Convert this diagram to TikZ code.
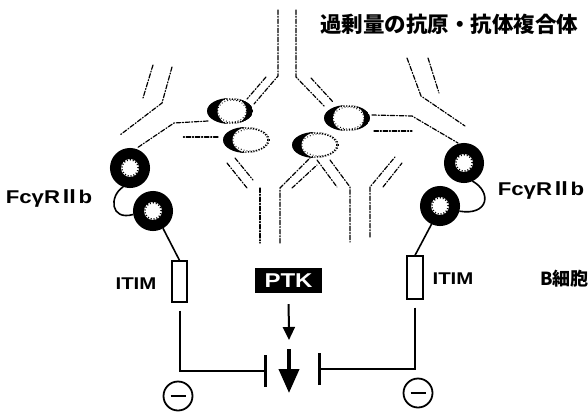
\documentclass[tikz,border=0pt]{standalone}
\usepackage{fontspec}
\usetikzlibrary{arrows.meta,shapes.geometric}
\newfontfamily\latsans{Liberation Sans}[FakeStretch=1.2]
\newfontfamily\cjk{Noto Sans CJK JP}

\tikzset{
  pics/antigen/.style 2 args={code={
    \begin{scope}
      \clip (0,0) ellipse (23pt and 13pt);
      \fill (0,0) ellipse (23pt and 13pt);
      \fill[white] (#1,0) ellipse (#2 and 13.5pt);
    \end{scope}
    \draw[line width=1.4pt, dash pattern=on 1.2pt off 1.5pt] (0,0) ellipse (22pt and 12pt);
    \draw[line width=1pt, dash pattern=on 0.8pt off 2.2pt] (#1,0) ellipse (#2 and 11pt);
  }}
}

\begin{document}
\begin{tikzpicture}[x=1pt,y=-1pt,
  ab/.style={line width=1.2pt, dash pattern=on 4.5pt off 1.8pt on 1pt off 1.8pt, line cap=round},
  wire/.style={line width=1.6pt},
  receptor/.style={circle, draw, line width=11pt, minimum size=29pt, inner sep=0pt},
  itim/.style={draw, line width=1.3pt, minimum width=15pt, minimum height=41pt, inner sep=0pt},
  lbl/.style={font=\latsans\bfseries\fontsize{17}{19}\selectfont, inner sep=0pt},
  jp/.style={font=\cjk\bfseries\fontsize{#1}{#1}\selectfont, inner sep=0pt},
  inhib/.style={line width=2pt, -{Bar[width=32pt,line width=2.6pt]}},
  minus/.style={circle, draw, line width=1.8pt, minimum size=29pt, inner sep=0pt},
]
\useasboundingbox (0,0) rectangle (588,412);

% antibody chains (dash-dot outlines)
% complex at the top
\draw[ab] (278,10) -- (278,76) -- (254,104);
\draw[ab] (296,10) -- (296,77) -- (325,107);
\draw[ab] (266,77) -- (247,99);
\draw[ab] (311,78) -- (333,102);
% antibody bound to the left receptor
\draw[ab] (208,121) -- (174,123) -- (137,148);
\draw[ab] (218,137) -- (183,137);
\draw[ab] (172,67) -- (162,103) -- (120,135);
\draw[ab] (153,65) -- (143,98);
% antibody bound to the right receptor
\draw[ab] (372,115) -- (412,116) -- (458,143);
\draw[ab] (374,131) -- (412,131);
\draw[ab] (407,58) -- (421,96) -- (465,126);
\draw[ab] (428,58) -- (439,93);
% B cell receptors below
\draw[ab] (227,163) -- (247,188);
\draw[ab] (235,158) -- (253,180);
\draw[ab] (260,188) -- (260,243);
\draw[ab] (280,243) -- (280,188) -- (310,158);
\draw[ab] (292,188) -- (317,165);
\draw[ab] (317,160) -- (337,187);
\draw[ab] (330,160) -- (350,187) -- (350,242);
\draw[ab] (370,237) -- (370,187) -- (395,157);
\draw[ab] (383,187) -- (402,163);

% antigens
\coordinate (ag1) at (230,111);
\coordinate (ag2) at (246,140);
\coordinate (ag3) at (347,118);
\coordinate (ag4) at (315,145);
\pic at (ag1) {antigen={2pt}{14.5pt}};
\pic at (ag2) {antigen={5pt}{18.5pt}};
\pic at (ag3) {antigen={1.5pt}{15.5pt}};
\pic at (ag4) {antigen={5pt}{18.5pt}};

% Fc gamma RIIb receptors
\node[receptor] (r1) at (130,168) {};
\node[receptor] (r2) at (153,211) {};
\node[receptor] (r3) at (464,163) {};
\node[receptor] (r4) at (440,206) {};
\foreach \r in {r1,r2,r3,r4}
  \draw[line width=1.6pt, dash pattern=on 1pt off 2pt] (\r.center) circle (8.2pt);

% ITIM boxes
\node[itim] (itimL) at (179.5,281.5) {};
\node[itim, minimum width=16pt, minimum height=43pt] (itimR) at (415,277.5) {};

% linkers
\draw[wire] (r1.250) .. controls (109,196) and (110,221) .. (r2.190);
\draw[wire] (r3.295) .. controls (492,192) and (489,216) .. (r4.345);
\draw[wire] (r2.300) -- (itimL.north);
\draw[wire] (r4.245) -- (itimR.north);

% kinase and signal
\node[fill=black, text=white, minimum width=67pt, minimum height=25pt, inner sep=0pt,
      font=\latsans\bfseries\fontsize{20}{22}\selectfont] (ptk) at (288.5,280.5) {PTK};
\coordinate (a1) at (289,340);
\coordinate (a2s) at (289,349);
\coordinate (a2e) at (289,393);
\draw[line width=2pt, -{Triangle[width=12pt,length=13pt]}, shorten <=11pt] (ptk.south) -- (a1);
\draw[line width=4pt, -{Triangle[width=20pt,length=24pt]}] (a2s) -- (a2e);

% inhibition
\coordinate (tL) at (267,371);
\coordinate (tR) at (318,369);
\draw[inhib] ([yshift=-8pt]itimL.south) |- (tL);
\draw[inhib] ([yshift=-8pt]itimR.south) |- (tR);

\node[minus] (mL) at (178,396) {\rule{15pt}{2.4pt}};
\node[minus] (mR) at (418,393) {\rule{15pt}{2.4pt}};

% labels
\node[jp=21.5] (title) at (449,24) {過剰量の抗原・抗体複合体};
\node[lbl, font=\latsans\bfseries\fontsize{18.5}{20}\selectfont] (fcL) at (49,198) {FcγR{\cjk Ⅱ}b};
\node[lbl, font=\latsans\bfseries\fontsize{18.5}{20}\selectfont] (fcR) at (541,190) {FcγR{\cjk Ⅱ}b};
\node[lbl] (itimLt) at (136,284) {ITIM};
\node[lbl] (itimRt) at (453,279) {ITIM};
\node[jp=18, anchor=west] (bcell) at (540,279) {B細胞};
\end{tikzpicture}
\end{document}
